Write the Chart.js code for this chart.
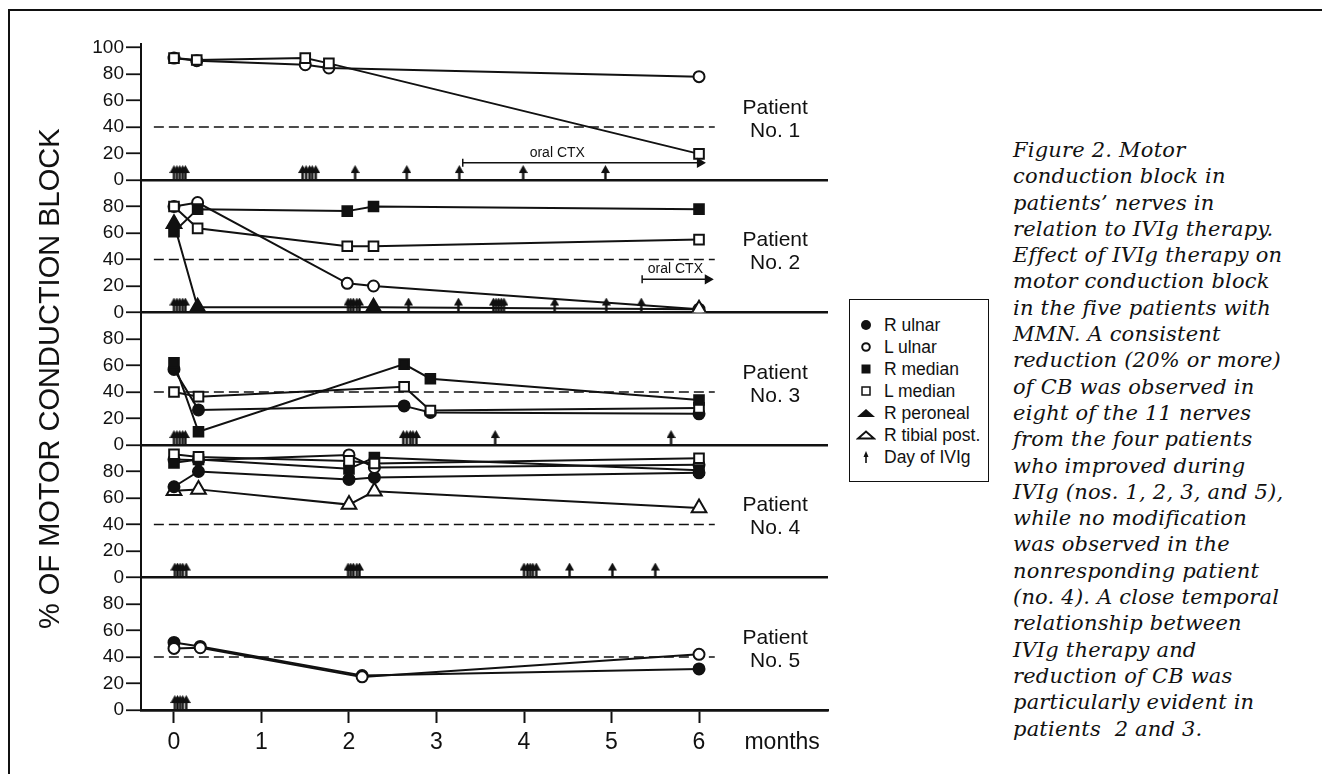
<!DOCTYPE html>
<html>
<head>
<meta charset="utf-8">
<script src="https://cdn.jsdelivr.net/npm/chart.js@4.4.1/dist/chart.umd.min.js"></script>
<style>
  html, body { margin: 0; padding: 0; background: #fff; }
  body { width: 1322px; height: 774px; position: relative; overflow: hidden; font-family: "Liberation Sans", Arial, sans-serif; color: #111; }
  #marco { position: absolute; left: 8px; top: 9px; width: 1400px; height: 800px; border-left: 2.5px solid #111; border-top: 2.5px solid #111; }
  #contenedor { position: absolute; left: 0; top: 0; width: 840px; height: 774px; }
  #leyenda { position: absolute; left: 849px; top: 299px; width: 140px; height: 183px; box-sizing: border-box; border: 1.5px solid #111; }
  #leyenda .fila { position: absolute; left: 6px; height: 22px; display: flex; align-items: center; font-size: 17.5px; white-space: nowrap; }
  #leyenda svg { width: 20px; height: 16px; margin-right: 8px; }
  #pie { position: absolute; left: 1013px; top: 137px; font: italic 21px/26.3px "DejaVu Serif", serif; letter-spacing: 0.2px; white-space: nowrap; color: #111; }
</style>
</head>
<body>
<div id="marco"></div>
<div id="contenedor"><canvas id="grafico"></canvas></div>
<div id="leyenda"></div>
<div id="pie">Figure 2. Motor<br>conduction block in<br>patients’ nerves in<br>relation to IVIg therapy.<br>Effect of IVIg therapy on<br>motor conduction block<br>in the five patients with<br>MMN. A consistent<br>reduction (20% or more)<br>of CB was observed in<br>eight of the 11 nerves<br>from the four patients<br>who improved during<br>IVIg (nos. 1, 2, 3, and 5),<br>while no modification<br>was observed in the<br>nonresponding patient<br>(no. 4). A close temporal<br>relationship between<br>IVIg therapy and<br>reduction of CB was<br>particularly evident in<br>patients &nbsp;2 and 3.</div>
<script>
const monthTicks = [0, 1, 2, 3, 4, 5, 6];
const yTicks = [0, 20, 40, 60, 80, 100];
const threshold = 40;
const thresholdSpan = [-0.23, 6.18];
const arrowLevel = 6;

// Patient No. 1
const p1Months = [0, 0.26, 1.5, 1.77, 6];
const p1LUlnar = [92, 90, 87, 84.5, 78];
const p1LMedian = [92, 90.5, 92, 88, 19.7];
const p1Ivig = [0, 0.033, 0.066, 0.1, 0.13, 1.47, 1.51, 1.55, 1.58, 1.62, 2.07, 2.66, 3.26, 3.99, 4.93];
const p1Ctx = [3.3, 6.01];

// Patient No. 2
const p2Months = [0, 0.27, 1.98, 2.28, 6];
const p2LMedian = [80, 63.5, 50, 50, 55];
const p2LUlnar = [80, 83, 22, 20, 2.5];
const p2RMedian = [61, 78, 76.5, 80, 78];
const p2PeronealMonths = [0, 0.27, 2.28, 6];
const p2RPeroneal = [67, 4, 4, 2.5];
const p2Ivig = [0, 0.033, 0.066, 0.1, 0.13, 1.99, 2.02, 2.05, 2.09, 2.12, 2.68, 3.25, 3.65, 3.68, 3.71, 3.74, 3.77, 4.35, 4.94, 5.34];
const p2Ctx = [5.35, 6.1];

// Patient No. 3
const p3Months = [0, 0.28, 2.63, 2.93, 6];
const p3RMedian = [62, 10, 61, 50, 34];
const p3RUlnar = [57, 26.5, 29.5, 24.5, 23.5];
const p3LMedian = [40, 36.5, 44, 26, 28];
const p3Ivig = [0, 0.033, 0.066, 0.1, 0.13, 2.62, 2.66, 2.7, 2.73, 2.77, 3.67, 5.68];

// Patient No. 4
const p4Months = [0, 0.28, 2.0, 2.29, 6];
const p4RTibial = [65.5, 66.5, 55, 65, 52.5];
const p4RUlnar = [68.5, 80, 74, 75.5, 79];
const p4RMedian = [86.5, 89, 82, 90.5, 81];
const p4LMedian = [93, 91, 88, 86, 90];
const p4LUlnar = [89, 88.5, 92.5, 83, 85];
const p4Ivig = [0.01, 0.04, 0.07, 0.1, 0.14, 1.99, 2.02, 2.05, 2.09, 2.12, 4.0, 4.04, 4.07, 4.1, 4.14, 4.52, 5.01, 5.5];

// Patient No. 5
const p5Months = [0, 0.3, 2.15, 6];
const p5RUlnar = [51, 48, 26, 31];
const p5LUlnar = [46.5, 47, 25, 42];
const p5Ivig = [0.01, 0.04, 0.07, 0.1, 0.14];

const ctxLevels = [13, 25];
const ctxLabelMonths = [4.38, 5.73];
const patientLabelMonth = 6.87;
const monthsLabelAt = 6.95;

const negro = '#111';
const estilos = {
  'R ulnar': {pointStyle: 'circle', radius: 5.5, fill: negro},
  'L ulnar': {pointStyle: 'circle', radius: 5.5, fill: '#fff'},
  'R median': {pointStyle: 'rect', radius: 6.8, fill: negro},
  'L median': {pointStyle: 'rect', radius: 6.8, fill: '#fff'},
  'R peroneal': {pointStyle: 'triangle', radius: 8.5, fill: negro},
  'R tibial post.': {pointStyle: 'triangle', radius: 8.5, fill: '#fff'}
};

const flecha = document.createElement('canvas');
flecha.width = 9; flecha.height = 14;
const fc = flecha.getContext('2d');
fc.fillStyle = negro;
fc.beginPath(); fc.moveTo(4.5, 0); fc.lineTo(9, 8); fc.lineTo(0, 8); fc.closePath(); fc.fill();
fc.fillRect(3.3, 7, 2.4, 7);

const serie = (eje, meses, valores, nervio, relleno) => {
  const e = estilos[nervio];
  return {
    label: nervio, yAxisID: eje, showLine: true,
    data: meses.map((m, i) => ({x: m, y: valores[i]})),
    borderColor: negro, borderWidth: 2,
    pointStyle: e.pointStyle, pointRadius: e.radius,
    pointBackgroundColor: relleno || e.fill, pointBorderColor: negro, pointBorderWidth: 2
  };
};

const dias = (eje, meses) => ({
  label: 'Day of IVIg', yAxisID: eje, showLine: false,
  data: meses.map(m => ({x: m, y: arrowLevel})),
  pointStyle: flecha, pointRadius: 4
});

const ctxFlecha = (eje, tramo, nivel) => ({
  label: 'oral CTX', yAxisID: eje, showLine: true,
  data: tramo.map(m => ({x: m, y: nivel})),
  borderColor: negro, borderWidth: 1.5,
  pointStyle: ['line', 'triangle'], rotation: 90, pointRadius: [4, 4.5],
  pointBackgroundColor: negro, pointBorderColor: negro, pointBorderWidth: 1.5
});

const corte = eje => ({
  label: '40%', yAxisID: eje, showLine: true,
  data: thresholdSpan.map(m => ({x: m, y: threshold})),
  borderColor: negro, borderWidth: 1.5, borderDash: [10, 5], pointRadius: 0
});

const ejes = ['y1', 'y2', 'y3', 'y4', 'y5'];

const datasets = [
  ctxFlecha('y1', p1Ctx, ctxLevels[0]),
  ctxFlecha('y2', p2Ctx, ctxLevels[1]),
  ...ejes.map((e, i) => dias(e, [p1Ivig, p2Ivig, p3Ivig, p4Ivig, p5Ivig][i])),
  serie('y1', p1Months, p1LMedian, 'L median'),
  serie('y1', p1Months, p1LUlnar, 'L ulnar'),
  serie('y2', p2PeronealMonths, p2RPeroneal, 'R peroneal', [negro, negro, negro, '#fff']),
  serie('y2', p2Months, p2RMedian, 'R median'),
  serie('y2', p2Months, p2LMedian, 'L median'),
  serie('y2', p2Months, p2LUlnar, 'L ulnar'),
  serie('y3', p3Months, p3RMedian, 'R median'),
  serie('y3', p3Months, p3LMedian, 'L median'),
  serie('y3', p3Months, p3RUlnar, 'R ulnar'),
  serie('y4', p4Months, p4LMedian, 'L median'),
  serie('y4', p4Months, p4RMedian, 'R median'),
  serie('y4', p4Months, p4LUlnar, 'L ulnar'),
  serie('y4', p4Months, p4RUlnar, 'R ulnar'),
  serie('y4', p4Months, p4RTibial, 'R tibial post.'),
  serie('y5', p5Months, p5LUlnar, 'L ulnar'),
  serie('y5', p5Months, p5RUlnar, 'R ulnar'),
  ...ejes.map(corte)
];

const ejeY = (n) => {
  const arriba = n === 1;
  return {
    type: 'linear', position: 'left', stack: 'paneles',
    stackWeight: arriba ? 1.03 : 1, min: 0, max: arriba ? 103 : 100,
    afterBuildTicks: s => { s.ticks = yTicks.filter(v => arriba || v < 100).map(v => ({value: v})); },
    afterFit: s => { s.width = 141; },
    ticks: {autoSkip: false, font: {size: 19}, color: negro, padding: 2},
    grid: {
      color: c => c.tick && c.tick.value === 0 ? negro : 'transparent',
      lineWidth: 2.5, tickLength: 15, tickColor: negro, tickWidth: 1.8
    },
    border: {color: negro, width: 2},
    title: n === 3
      ? {display: true, text: '% OF MOTOR CONDUCTION BLOCK', color: negro, font: {size: 29}, padding: {top: 33.6, bottom: 0}}
      : {display: false}
  };
};

const rotulos = {
  id: 'rotulos',
  afterDatasetsDraw(chart) {
    const {ctx, scales} = chart;
    ctx.save();
    ctx.fillStyle = negro;
    ctx.textAlign = 'center';
    ctx.textBaseline = 'middle';
    ctx.font = '21px "Liberation Sans", Arial, sans-serif';
    ejes.forEach((e, i) => {
      const x = scales.x.getPixelForValue(patientLabelMonth);
      const y = scales[e].getPixelForValue(46);
      ctx.fillText('Patient', x, y - 11);
      ctx.fillText('No. ' + (i + 1), x, y + 12);
    });
    ctx.font = '14px "Liberation Sans", Arial, sans-serif';
    ctxLabelMonths.forEach((m, i) => {
      const e = ejes[i];
      ctx.fillText('oral CTX', scales.x.getPixelForValue(m), scales[e].getPixelForValue(ctxLevels[i]) - 10);
    });
    ctx.restore();
  }
};

Chart.defaults.font.family = '"Liberation Sans", Arial, sans-serif';

new Chart(document.getElementById('grafico'), {
  type: 'scatter',
  data: {datasets},
  options: {
    responsive: true, maintainAspectRatio: false, animation: false,
    layout: {padding: {top: 43.5, right: 12, bottom: 10, left: 0}},
    plugins: {legend: {display: false}, tooltip: {enabled: false}},
    scales: {
      x: {
        type: 'linear', min: -0.377, max: 7.474,
        afterBuildTicks: s => { s.ticks = monthTicks.concat([monthsLabelAt]).map(v => ({value: v})); },
        afterFit: s => { s.height = 54; },
        ticks: {
          autoSkip: false, maxRotation: 0, color: negro, font: {size: 23}, padding: 6,
          callback: v => v === monthsLabelAt ? 'months' : v
        },
        grid: {
          drawOnChartArea: false, tickLength: 13, tickWidth: 2,
          tickColor: c => c.tick && c.tick.value > 6 ? 'transparent' : negro
        },
        border: {color: negro, width: 2.5}
      },
      y5: ejeY(5), y4: ejeY(4), y3: ejeY(3), y2: ejeY(2), y1: ejeY(1)
    }
  },
  plugins: [rotulos]
});

const simbolos = {
  'R ulnar': '<circle cx="10" cy="8" r="5" fill="#111"/>',
  'L ulnar': '<circle cx="10" cy="8" r="3.8" fill="none" stroke="#111" stroke-width="2"/>',
  'R median': '<rect x="5.5" y="3.5" width="9" height="9" fill="#111"/>',
  'L median': '<rect x="6" y="4" width="8" height="8" fill="none" stroke="#111" stroke-width="1.5"/>',
  'R peroneal': '<polygon points="1,12 19,12 10,4" fill="#111"/>',
  'R tibial post.': '<polygon points="2,11.5 18,11.5 10,4.5" fill="none" stroke="#111" stroke-width="2"/>',
  'Day of IVIg': '<polygon points="7.5,8 12.5,8 10,2" fill="#111"/><rect x="9.2" y="7" width="1.6" height="7" fill="#111"/>'
};
const leyenda = document.getElementById('leyenda');
Object.keys(simbolos).forEach((nombre, i) => {
  const fila = document.createElement('div');
  fila.className = 'fila';
  fila.style.top = (14 + i * 22) + 'px';
  fila.innerHTML = '<svg viewBox="0 0 20 16">' + simbolos[nombre] + '</svg><span>' + nombre + '</span>';
  leyenda.appendChild(fila);
});
</script>
</body>
</html>
